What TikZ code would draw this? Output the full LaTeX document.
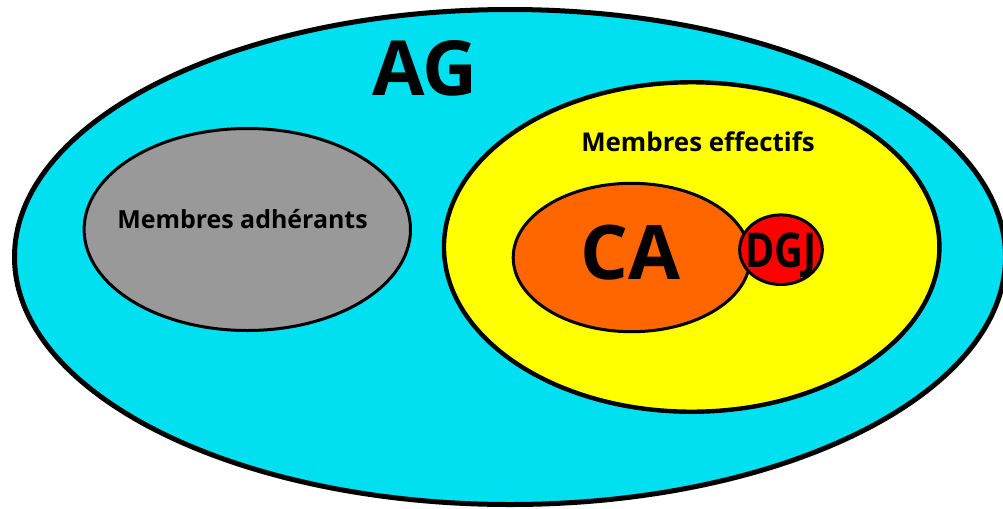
\documentclass[tikz,border=0pt]{standalone}
\usepackage{fontspec}
\setmainfont{Open Sans}
\usetikzlibrary{shapes.geometric}
\definecolor{agcyan}{HTML}{00E0F0}
\definecolor{adhgray}{HTML}{999999}
\definecolor{effyellow}{HTML}{FFFF00}
\definecolor{caorange}{HTML}{FF6600}
\definecolor{dgjred}{HTML}{FF0000}
\begin{document}
\begin{tikzpicture}[x=0.75pt,y=-0.75pt,
  blob/.style={ellipse,draw=black,inner sep=0pt,outer sep=0pt},
  lbl/.style={anchor=base,inner sep=0pt,font=\bfseries}]
\useasboundingbox (0,0) rectangle (1003,508);
\node[blob,fill=agcyan,line width=3.75pt,minimum width=743.25pt,minimum height=371.25pt] (ag) at (510,257) {};
\node[blob,fill=adhgray,line width=2.25pt,minimum width=244.8pt,minimum height=151.5pt] (adh) at (247.3,229.5) {};
\node[blob,fill=effyellow,line width=3.3pt,minimum width=371.6pt,minimum height=247.1pt] (eff) at (691.7,247) {};
\node[blob,fill=caorange,line width=2.25pt,minimum width=177.75pt,minimum height=111.3pt] (ca) at (631.7,257.5) {};
\node[blob,fill=dgjred,line width=2.25pt,minimum width=62pt,minimum height=52.2pt] (dgj) at (781,249.7) {};
\node[lbl,font=\bfseries\fontsize{57pt}{60pt}\selectfont] (agt) at (425,95) {AG};
\node[lbl,font=\bfseries\fontsize{18.7pt}{20pt}\selectfont] (adht) at (242.5,228.3) {Membres adhérants};
\node[lbl,font=\bfseries\fontsize{19.4pt}{21pt}\selectfont] (efft) at (698,151) {Membres effectifs};
\node[lbl,font=\bfseries\fontsize{56.5pt}{60pt}\selectfont] (cat) at (630,279.3) {CA};
\node[lbl,font=\bfseries\fontsize{36pt}{40pt}\selectfont] (dgjt) at (781,267) {\scalebox{0.83}[1]{DGJ}};
\end{tikzpicture}
\end{document}
